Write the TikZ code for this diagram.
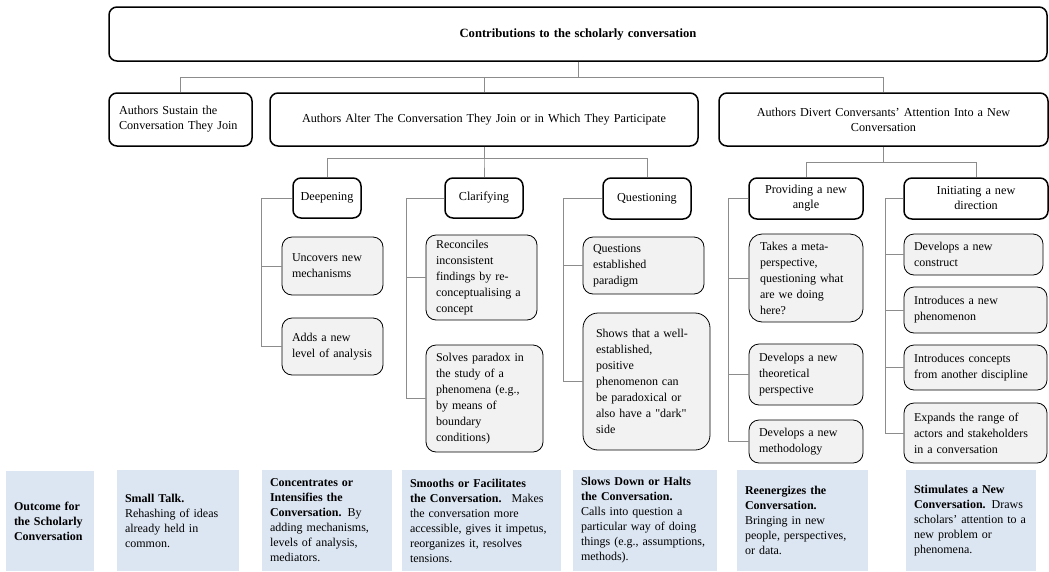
\documentclass[tikz,border=0pt]{standalone}
\usepackage{fontspec}
\setmainfont{Liberation Serif}
\definecolor{boxgray}{HTML}{F2F2F2}
\definecolor{boxblue}{HTML}{DCE6F2}
\definecolor{linegray}{HTML}{8C8C8C}
\newcommand\mybox[8]{%
  \pgfmathsetmacro\myW{#4-#2}%
  \pgfmathsetmacro\myH{#5-#3}%
  \pgfmathsetmacro\myTW{#4-#2-2*#6}%
  \pgfmathsetmacro\myCX{(#2+#4)/2}%
  \pgfmathsetmacro\myCY{(#3+#5)/2}%
  \node[#7, inner sep=0pt, minimum width=\myW pt, minimum height=\myH pt, text width=\myTW pt] (#1) at (\myCX,\myCY) {#8};}
\tikzset{
  lvl/.style={draw, line width=1.5pt, rounded corners=8pt, fill=white, align=center, font=\fontsize{12.2}{15}\selectfont},
  leaf/.style={draw, line width=0.8pt, rounded corners=10pt, fill=boxgray, align=left, font=\fontsize{12}{16}\selectfont},
  outc/.style={fill=boxblue, align=left, font=\fontsize{12}{15}\selectfont},
  conn/.style={draw=linegray, line width=0.9pt},
}
\begin{document}
\begin{tikzpicture}[x=1pt,y=-1pt]
\useasboundingbox (0,0) rectangle (1049,571);
% top
\mybox{top}{109}{7}{1047}{61}{10}{lvl}{\fontsize{12.6}{15}\selectfont\bfseries Contributions to the scholarly conversation}
% level 2
\mybox{sustain}{109}{93}{252}{146}{10}{lvl, align=left}{Authors Sustain the\\Conversation They Join}
\mybox{alter}{270}{93}{698}{146}{10}{lvl}{Authors Alter The Conversation They Join or in Which They Participate}
\mybox{divert}{719}{93}{1048}{146}{10}{lvl}{Authors Divert Conversants’ Attention Into a New\\Conversation}
% level 3
\mybox{deep}{293}{178}{361}{218}{4}{lvl}{Deepening}
\mybox{clar}{445}{178}{523}{218}{4}{lvl}{Clarifying}
\mybox{ques}{603}{178}{691}{219}{4}{lvl}{Questioning}
\mybox{prov}{749}{178}{863}{219}{4}{lvl}{Providing a new\\angle}
\mybox{init}{904}{178}{1048}{219}{4}{lvl}{Initiating a new\\direction}
% leaves
\mybox{d1}{282}{237}{383}{295}{10}{leaf}{Uncovers new\\mechanisms}
\mybox{d2}{282}{318}{383}{375}{10}{leaf}{Adds a new\\level of analysis}
\mybox{c1}{426}{235}{537}{320}{10}{leaf}{Reconciles\\inconsistent\\findings by re-\\conceptualising a\\concept}
\mybox{c2}{426}{345}{543}{452}{10}{leaf}{Solves paradox in\\the study of a\\phenomena (e.g.,\\by means of\\boundary\\conditions)}
\mybox{q1}{583}{237}{704}{294}{10}{leaf}{Questions\\established\\paradigm}
\mybox{q2}{583}{313}{710}{450}{13}{leaf, rounded corners=15pt}{Shows that a well-\\established,\\positive\\phenomenon can\\be paradoxical or\\also have a \textquotedbl dark\textquotedbl\\side}
\mybox{p1}{749}{234}{863}{322}{11}{leaf, rounded corners=13pt}{Takes a meta-\\perspective,\\questioning what\\are we doing\\here?}
\mybox{p2}{749}{344}{863}{405}{10}{leaf}{Develops a new\\theoretical\\perspective}
\mybox{p3}{749}{420}{863}{463}{10}{leaf}{Develops a new\\methodology}
\mybox{i1}{904}{234}{1043}{275}{10}{leaf}{Develops a new\\construct}
\mybox{i2}{904}{287}{1047}{333}{10}{leaf}{Introduces a new\\phenomenon}
\mybox{i3}{904}{345}{1047}{390}{10}{leaf}{Introduces concepts\\from another discipline}
\mybox{i4}{904}{403}{1047}{463}{10}{leaf}{Expands the range of\\actors and stakeholders\\in a conversation}
% outcomes
\mybox{o0}{6}{471}{94}{571}{8}{outc}{\bfseries Outcome for\\the Scholarly\\Conversation}
\mybox{o1}{117}{470}{239}{571}{8}{outc}{\textbf{Small Talk.}\\Rehashing of ideas\\already held in\\common.}
\mybox{o2}{262}{470}{392}{571}{8}{outc}{\textbf{Concentrates or}\\\textbf{Intensifies the}\\\textbf{Conversation.} By\\adding mechanisms,\\levels of analysis,\\mediators.}
\mybox{o3}{402}{470}{561}{571}{8}{outc}{\textbf{Smooths or Facilitates}\\\textbf{the Conversation.}~ Makes\\the conversation more\\accessible, gives it impetus,\\reorganizes it, resolves\\tensions.}
\mybox{o4}{573}{470}{717}{571}{8}{outc}{\textbf{Slows Down or Halts}\\\textbf{the Conversation.}\\Calls into question a\\particular way of doing\\things (e.g., assumptions,\\methods).}
\mybox{o5}{737}{470}{868}{571}{8}{outc}{\textbf{Reenergizes the}\\\textbf{Conversation.}\\Bringing in new\\people, perspectives,\\or data.}
\mybox{o6}{906}{470}{1036}{571}{8}{outc}{\textbf{Stimulates a New}\\\textbf{Conversation.} Draws\\scholars’ attention to a\\new problem or\\phenomena.}
% connectors: top tree
\draw[conn] (top.south) -- ++(0,16) -| (sustain.north);
\draw[conn] (top.south) -- ++(0,16) -| (alter.north);
\draw[conn] (top.south) -- ++(0,16) -| (divert.north);
\draw[conn] (alter.south) -- ++(0,12) -| (deep.north);
\draw[conn] (alter.south) -- ++(0,12) -| (clar.north);
\draw[conn] (alter.south) -- ++(0,12) -| (ques.north);
\draw[conn] (divert.south) -- ++(0,16) -| (prov.north);
\draw[conn] (divert.south) -- ++(0,16) -| (init.north);
% brackets
\draw[conn] (deep.west) -- ++(-31,0) |- (d1.west);
\draw[conn] (deep.west) -- ++(-31,0) |- (d2.west);
\draw[conn] (clar.west) -- ++(-38,0) |- (c1.west);
\draw[conn] (clar.west) -- ++(-38,0) |- (c2.west);
\draw[conn] (ques.west) -- ++(-39,0) |- (q1.west);
\draw[conn] (ques.west) -- ++(-39,0) |- (q2.west);
\draw[conn] (prov.west) -- ++(-20,0) |- (p1.west);
\draw[conn] (prov.west) -- ++(-20,0) |- (p2.west);
\draw[conn] (prov.west) -- ++(-20,0) |- (p3.west);
\draw[conn] (init.west) -- ++(-18,0) |- (i1.west);
\draw[conn] (init.west) -- ++(-18,0) |- (i2.west);
\draw[conn] (init.west) -- ++(-18,0) |- (i3.west);
\draw[conn] (init.west) -- ++(-18,0) |- (i4.west);
\end{tikzpicture}
\end{document}
